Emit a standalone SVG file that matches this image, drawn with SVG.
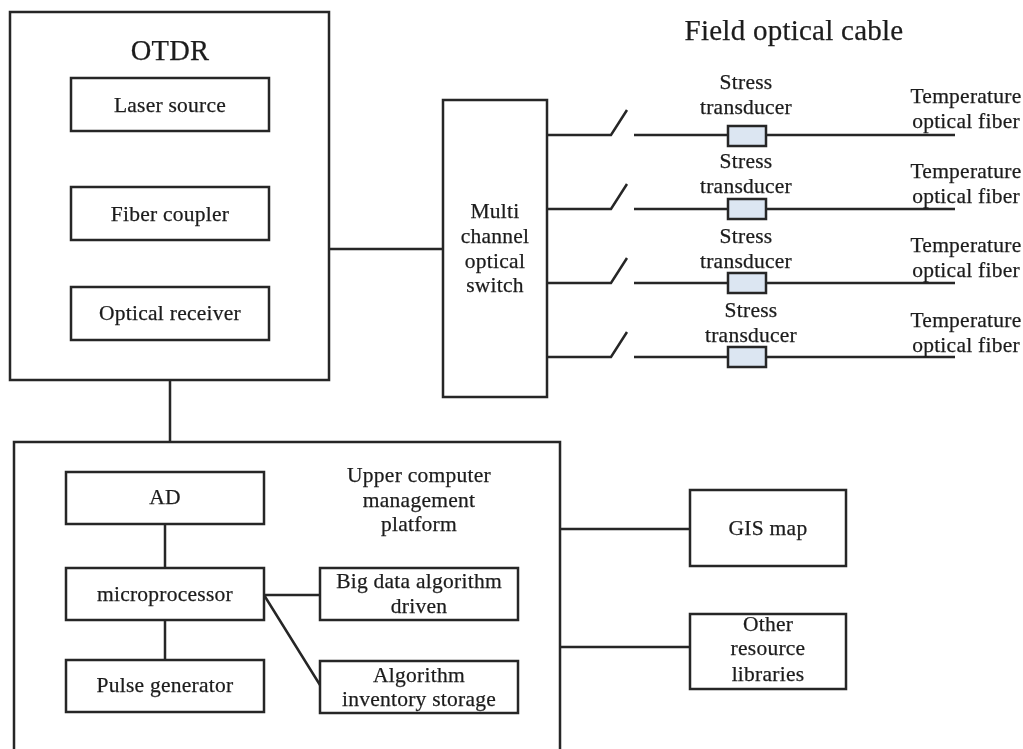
<svg xmlns="http://www.w3.org/2000/svg" width="1023" height="749" viewBox="0 0 1023 749">
<defs><filter id="soft" x="-2%" y="-2%" width="104%" height="104%"><feGaussianBlur stdDeviation="0.6"/></filter></defs>
<style>
.box{fill:#fff;stroke:#262626;stroke-width:2.5}
.x{fill:#dce6f2;stroke:#262626;stroke-width:2.5}
.c{fill:none;stroke:#262626;stroke-width:2.5}
text{font-family:"Liberation Serif","Times New Roman",serif;font-size:21.5px;letter-spacing:.25px;fill:#1c1c1c;stroke:#1c1c1c;stroke-width:.25;text-anchor:middle}
.h{font-size:28.5px}
.f{font-size:29px}
</style>
<rect width="1023" height="749" fill="#fff"/>
<g filter="url(#soft)">
<g id="otdr"><rect class="box" x="10" y="12" width="319" height="368"/><text class="h" x="170" y="60">OTDR</text></g>
<g id="laser-source"><rect class="box" x="71" y="78" width="198" height="53"/><text x="170" y="112">Laser source</text></g>
<g id="fiber-coupler"><rect class="box" x="71" y="187" width="198" height="53"/><text x="170" y="221">Fiber coupler</text></g>
<g id="optical-receiver"><rect class="box" x="71" y="287" width="198" height="53"/><text x="170" y="320">Optical receiver</text></g>
<g id="optical-switch"><rect class="box" x="443" y="100" width="104" height="297"/><text x="495" y="218">Multi</text><text x="495" y="243">channel</text><text x="495" y="268">optical</text><text x="495" y="292">switch</text></g>
<g id="field-cable-title"><text class="f" x="794" y="40">Field optical cable</text></g>
<g id="platform"><path class="box" d="M14 749V442H560V749"/><text x="419" y="482">Upper computer</text><text x="419" y="507">management</text><text x="419" y="531">platform</text></g>
<g id="connectors">
<path class="c" d="M329 249H443M170 380V442M547 135H611L627 110M634 135H728M766 135H955M547 209H611L627 184M634 209H728M766 209H955M547 283H611L627 258M634 283H728M766 283H955M547 357H611L627 332M634 357H728M766 357H955M560 529H690M560 647H690M165 523V568M165 620V660M264 595H320M264 595L320 685"/>
</g>
<g id="transducer-1"><rect class="x" x="728" y="126" width="38" height="20"/><text x="746" y="89">Stress</text><text x="746" y="114">transducer</text></g>
<g id="transducer-2"><rect class="x" x="728" y="199" width="38" height="20"/><text x="746" y="168">Stress</text><text x="746" y="193">transducer</text></g>
<g id="transducer-3"><rect class="x" x="728" y="273" width="38" height="20"/><text x="746" y="243">Stress</text><text x="746" y="268">transducer</text></g>
<g id="transducer-4"><rect class="x" x="728" y="347" width="38" height="20"/><text x="751" y="317">Stress</text><text x="751" y="342">transducer</text></g>
<g id="fiber-1"><text x="966" y="103">Temperature</text><text x="966" y="128">optical fiber</text></g>
<g id="fiber-2"><text x="966" y="178">Temperature</text><text x="966" y="203">optical fiber</text></g>
<g id="fiber-3"><text x="966" y="252">Temperature</text><text x="966" y="277">optical fiber</text></g>
<g id="fiber-4"><text x="966" y="327">Temperature</text><text x="966" y="352">optical fiber</text></g>
<g id="ad"><rect class="box" x="66" y="472" width="198" height="52"/><text x="165" y="504">AD</text></g>
<g id="microprocessor"><rect class="box" x="66" y="568" width="198" height="52"/><text x="165" y="601">microprocessor</text></g>
<g id="pulse-generator"><rect class="box" x="66" y="660" width="198" height="52"/><text x="165" y="692">Pulse generator</text></g>
<g id="big-data"><rect class="box" x="320" y="568" width="198" height="52"/><text x="419" y="588">Big data algorithm</text><text x="419" y="613">driven</text></g>
<g id="algorithm-storage"><rect class="box" x="320" y="661" width="198" height="52"/><text x="419" y="682">Algorithm</text><text x="419" y="706">inventory storage</text></g>
<g id="gis-map"><rect class="box" x="690" y="490" width="156" height="76"/><text x="768" y="535">GIS map</text></g>
<g id="resource-libraries"><rect class="box" x="690" y="614" width="156" height="75"/><text x="768" y="631">Other</text><text x="768" y="655">resource</text><text x="768" y="681">libraries</text></g>
</g>
</svg>
